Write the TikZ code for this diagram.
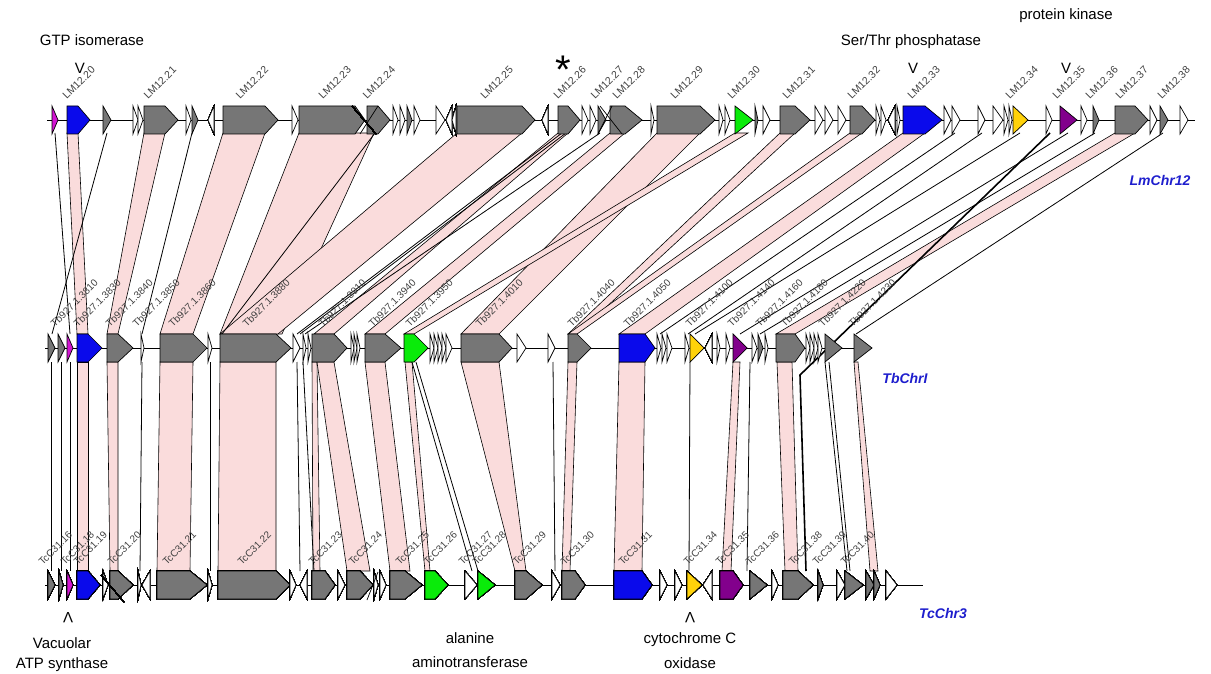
\documentclass[tikz,border=0pt]{standalone}
\usepackage{fontspec}
\setmainfont{Liberation Sans}
\definecolor{bandpink}{RGB}{250,220,220}
\definecolor{genegrey}{RGB}{118,118,118}
\definecolor{geneblue}{RGB}{10,10,235}
\definecolor{genegreen}{RGB}{10,235,10}
\definecolor{genemag}{RGB}{210,20,210}
\definecolor{genepurple}{RGB}{130,0,140}
\definecolor{geneyellow}{RGB}{255,210,10}
\definecolor{chrblue}{RGB}{30,30,205}
\tikzset{
	gene/.style={draw=black,line width=0.7pt,line join=miter},
	band/.style={draw=black,fill=bandpink,line width=0.6pt},
	link/.style={draw=black,line width=0.8pt},
	genelabel/.style={rotate=45,anchor=south west,inner sep=0pt,text=black!75,font=\fontsize{10}{10}\selectfont},
	toplabel/.style={genelabel,font=\fontsize{10.5}{10.5}\selectfont},
	note/.style={font=\fontsize{15}{17}\selectfont},
	chrlabel/.style={text=chrblue,font=\bfseries\itshape\fontsize{14}{16}\selectfont}
}
\newcommand{\genearrow}[5]{\draw[gene,fill=#5] (#1,#4-14) -- (#2,#4-14) -- (#3,#4) -- (#2,#4+14) -- (#1,#4+14) -- cycle;}
\newcommand{\geneleft}[4]{\draw[gene,fill=#4] (#2,#3-14) -- (#1,#3) -- (#2,#3+14) -- cycle;}
\begin{document}
\begin{tikzpicture}[x=1pt,y=-1pt]
	\useasboundingbox (0,0) rectangle (1211,674);
	% bands top to middle
	\foreach \a/\b/\c/\d in {67/78/77/88,144/165/107/118,223/265/160/193,299/374/220/282,457/522/220/278,558/568/314/334,610/625/365/385,657/700/461/499,735/748/404/414,780/795/568/577,850/862/568/577,903/925/619/645,1115/1135/776/795}
		\draw[band] (\a,133) -- (\b,133) -- (\d,334) -- (\c,334) -- cycle;
	% bands middle to bottom
	\foreach \a/\b/\c/\d in {77/88/77/88,107/118/110/118,160/193/157/190,220/276/218/276,312/317/313/320,317/334/347/370,365/385/390/410,405/412/425/430,461/499/515/526,568/577/562/570,619/645/614/642,733/740/722/731,777/792/785/798,854/858/870/878}
		\draw[band] (\a,362) -- (\b,362) -- (\d,571) -- (\c,571) -- cycle;
	% single links
	\foreach \a/\c in {55/70,107/52,192/142,375/222,562/297,566/300,600/305,1020/695,1068/740,1095/760,1163/856,955/660,982/688}
		\draw[link] (\a,133) -- (\c,334);
	\foreach \a/\c in {51/51,61/61,70/70,142/140,210/210,297/300,303/314,412/472,416/478,553/555,690/689,750/747,825/847,829/850}
		\draw[link] (\a,362) -- (\c,571);
	\draw[link,line width=1.6pt] (1050,133) -- (800,375) -- (806,571);
	% backbones
	\draw[line width=0.8pt] (47,120) -- (1195,120);
	\draw[line width=0.8pt] (45,348) -- (872,348);
	\draw[line width=0.8pt] (45,585) -- (923,585);
	% top row genes
	\foreach \a/\s/\b/\c in {52/52/58/genemag,67/78/90/geneblue,103/103/111/genegrey,133/133/138/white,138/138/143/white,144/165/178/genegrey,186/186/191/white,192/192/198/genegrey,223/265/278/genegrey,292/292/298/white,299/355/365/genegrey,367/378/390/genegrey,393/393/398/white,400/400/405/white,407/407/412/genegrey,414/414/420/white,436/436/445/white,457/522/535/genegrey,558/568/580/genegrey,582/582/588/white,590/590/596/white,598/598/606/genegrey,610/625/642/genegrey,651/651/654/white,657/700/715/genegrey,719/719/723/white,725/725/730/white,735/735/753/genegreen,755/755/758/genegrey,763/763/770/white,780/795/810/genegrey,815/815/823/white,825/825/833/white,838/838/846/white,850/862/875/genegrey,876/876/880/white,881/881/886/white,897/897/900/white,903/925/942/geneblue,944/944/951/white,952/952/960/white,978/978/985/white,993/993/1003/white,1004/1004/1008/white,1009/1009/1012/white,1013/1013/1028/geneyellow,1046/1046/1052/white,1060/1060/1077/genepurple,1081/1081/1087/white,1093/1093/1099/genegrey,1115/1135/1148/genegrey,1150/1150/1157/white,1160/1160/1168/genegrey,1180/1180/1188/white}
		\genearrow{\a}{\s}{\b}{120}{\c}
	\foreach \a/\b in {208/214,446/452,452/456,542/548,888/895}
		\geneleft{\a}{\b}{120}{white}
	\draw[line width=0.7pt] (352,106) -- (376,134);
	\draw[line width=0.7pt] (360,134) -- (378,106);
	\draw[line width=0.7pt] (600,106) -- (622,134);
	\draw[line width=0.7pt] (598,134) -- (612,106);
	% middle row genes
	\foreach \a/\s/\b/\c in {48/48/55/genegrey,58/58/65/genegrey,67/67/73/genemag,77/88/102/geneblue,107/118/133/genegrey,141/141/144/white,160/193/207/genegrey,208/208/212/white,220/276/291/genegrey,293/293/300/white,303/303/306/white,308/308/311/white,312/334/347/genegrey,351/351/354/white,354/354/357/white,357/357/360/white,365/385/401/genegrey,404/414/428/genegreen,430/430/434/white,434/434/438/white,438/438/442/white,442/442/446/white,446/446/452/white,461/499/512/genegrey,517/517/526/white,548/548/555/white,568/577/591/genegrey,619/645/655/geneblue,657/657/661/white,662/662/666/white,667/667/672/white,685/685/689/white,690/690/704/geneyellow,717/717/720/white,726/726/730/white,733/733/747/genepurple,752/752/757/white,758/758/763/genegrey,765/765/768/white,776/795/805/genegrey,806/806/810/white,810/810/814/white,814/814/818/white,818/818/822/white,825/825/842/genegrey,854/854/872/genegrey}
		\genearrow{\a}{\s}{\b}{348}{\c}
	\geneleft{705}{712}{348}{white}
	% bottom row genes
	\foreach \a/\s/\b/\c in {48/48/55/genegrey,59/59/63/genegrey,67/67/73/genemag,77/88/100/geneblue,103/103/108/white,110/118/133/genegrey,138/138/141/white,157/190/207/genegrey,208/208/212/white,218/276/290/genegrey,290/290/296/white,312/325/335/genegrey,338/338/345/white,347/360/373/genegrey,374/374/378/white,380/380/386/white,390/405/422/genegrey,425/435/448/genegreen,465/465/477/white,478/478/495/genegreen,515/526/542/genegrey,552/552/560/white,562/575/585/genegrey,614/642/652/geneblue,660/660/667/white,675/675/682/white,687/687/702/geneyellow,720/733/743/genepurple,750/750/767/genegrey,772/772/778/white,783/798/813/genegrey,818/818/823/genegrey,837/837/845/white,845/845/863/genegrey,866/866/874/genegrey,874/874/880/genegrey,886/886/897/white}
		\genearrow{\a}{\s}{\b}{585}{\c}
	\foreach \a/\b in {142/150,300/307,703/712}
		\geneleft{\a}{\b}{585}{white}
	\draw[line width=0.7pt] (101,575) -- (124,602);
	\draw[line width=0.7pt] (367,600) -- (378,572);
	% gene labels
	\foreach \x/\t in {67/LM12.20,148/LM12.21,240/LM12.22,323/LM12.23,367/LM12.24,485/LM12.25,558/LM12.26,595/LM12.27,617/LM12.28,675/LM12.29,732/LM12.30,787/LM12.31,852/LM12.32,912/LM12.33,1010/LM12.34,1057/LM12.35,1090/LM12.36,1120/LM12.37,1162/LM12.38}
		\node[toplabel] (top-\x) at (\x,100) {\t};
	\foreach \x/\t in {55/3810,78/3830,110/3840,137/3850,173/3860,247/3880,323/3910,373/3940,410/3950,480/4010,572/4040,628/4050,690/4100,732/4140,760/4160,785/4180,823/4220,853/4230}
		\node[genelabel] (mid-\x) at (\x,328) {Tb927.1.\t};
	\foreach \x/\t in {43/16,65/18,78/19,112/20,167/21,242/22,313/23,353/24,400/25,428/26,463/27,477/28,517/29,565/30,623/31,688/34,720/35,750/36,793/38,817/39,845/40}
		\node[genelabel] (bot-\x) at (\x,566) {TcC31.\t};
	% annotations
	\node[note] (gtp) at (92,40) {GTP isomerase};
	\node[note] (gtpv) at (80,68) {V};
	\node[anchor=base,font=\fontsize{40}{40}\selectfont] (star) at (563,84) {*};
	\node[note] (ser) at (911,42) {Ser/Thr phosphatase};
	\node[note] (serv) at (913,68) {V};
	\node[note] (pk) at (1066,16) {protein kinase};
	\node[note] (pkv) at (1066,68) {V};
	\node[chrlabel] (lm) at (1160,180) {LmChr12};
	\node[chrlabel] (tb) at (905,378) {TbChrI};
	\node[chrlabel] (tc) at (943,613) {TcChr3};
	\node[note,rotate=180] (vacv) at (68,618) {V};
	\node[note] (vac1) at (62,643) {Vacuolar};
	\node[note] (vac2) at (62,665) {ATP synthase};
	\node[note] (ala1) at (470,638) {alanine};
	\node[note] (ala2) at (470,662) {aminotransferase};
	\node[note,rotate=180] (cytv) at (690,618) {V};
	\node[note] (cyt1) at (690,640) {cytochrome C};
	\node[note] (cyt2) at (690,663) {oxidase};
\end{tikzpicture}
\end{document}
